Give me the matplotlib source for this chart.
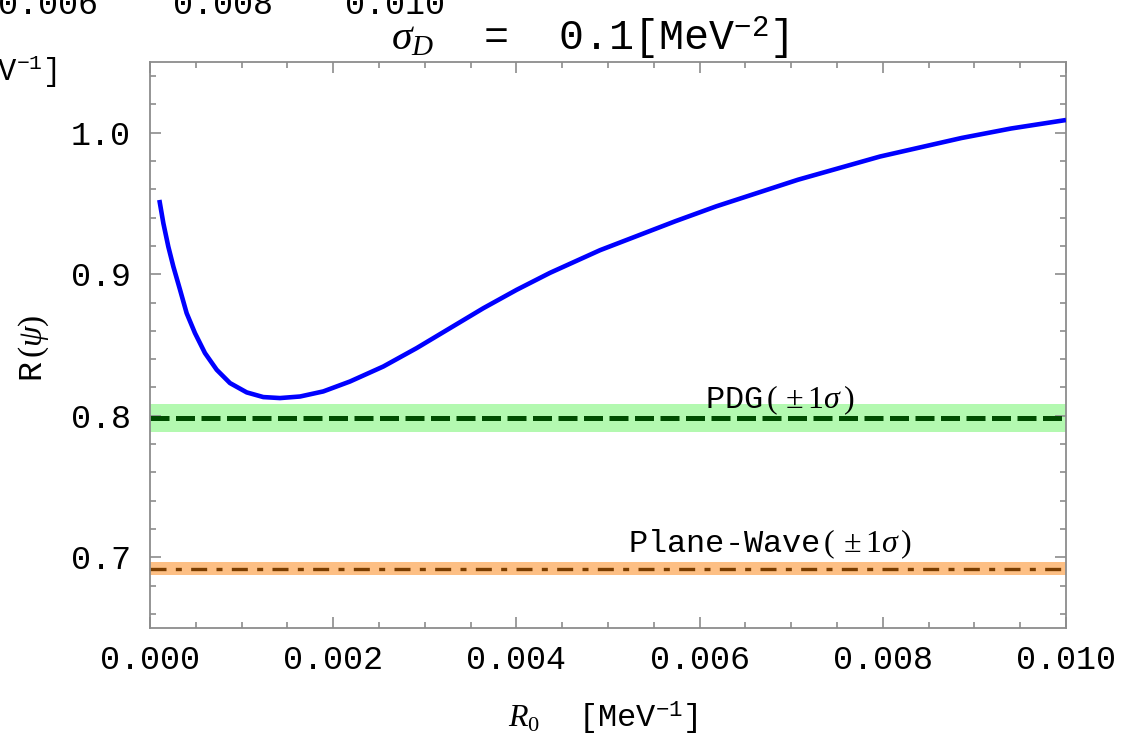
import matplotlib
matplotlib.use("Agg")
import matplotlib.pyplot as plt
from matplotlib.ticker import MultipleLocator

plt.rcParams['font.family'] = ['Liberation Mono', 'DejaVu Sans']
plt.rcParams['mathtext.fontset'] = 'custom'
plt.rcParams['mathtext.rm'] = 'Liberation Serif'
plt.rcParams['mathtext.it'] = 'Liberation Serif:italic'
plt.rcParams['mathtext.tt'] = 'Liberation Mono'

# R(psi) against the source radius R0, sigma_D = 0.1 MeV^-2
r0 = [0.000102, 0.000146, 0.000200, 0.000255, 0.000328, 0.000400, 0.000491,
      0.000600, 0.000728, 0.000873, 0.001056, 0.001237, 0.001419, 0.001638,
      0.001892, 0.002183, 0.002547, 0.002911, 0.003275, 0.003639, 0.004003,
      0.004367, 0.004913, 0.005736, 0.006182, 0.007074, 0.007970, 0.008860,
      0.009400, 0.010000]
ratio = [0.9525, 0.9360, 0.9195, 0.9054, 0.8890, 0.8725, 0.8584,
         0.8443, 0.8325, 0.8231, 0.8165, 0.8132, 0.8125, 0.8136,
         0.8172, 0.8242, 0.8348, 0.8478, 0.8619, 0.8760, 0.8890,
         0.9010, 0.9170, 0.9375, 0.9480, 0.9668, 0.9832, 0.9963,
         1.0030, 1.0090]

# reference values with one-sigma bands
pdg_val, pdg_err = 0.7985, 0.0100
pw_val, pw_err = 0.692, 0.0045

xticks = [0.000, 0.002, 0.004, 0.006, 0.008, 0.010]
yticks = [0.7, 0.8, 0.9, 1.0]

fig = plt.figure(figsize=(11.24, 7.38), dpi=100)
ax = fig.add_axes([150/1124, 110/738, 916/1124, 566/738])

ax.axhspan(pdg_val - pdg_err, pdg_val + pdg_err, color='#b3f9b0', lw=0, zorder=1)
ax.axhspan(pw_val - pw_err, pw_val + pw_err, color='#fdbf84', lw=0, zorder=1)
ax.axhline(pdg_val, color='#004d00', lw=3.6, dashes=(3.8, 1.3), zorder=2)
ax.axhline(pw_val, color='#7a3d00', lw=2.4, dashes=(4.8, 2.8, 1.8, 2.8), zorder=2)
ax.plot(r0, ratio, color='#0000ff', lw=3.3, solid_capstyle='butt',
        solid_joinstyle='round', zorder=3)

ax.text(0.00606, pdg_val + 0.0065, r'PDG$\,(\,\pm1\sigma\,)$', fontsize=23, zorder=4)
ax.text(0.00522, pw_val + 0.0115, r'Plane-Wave$\,(\,\pm1\sigma\,)$', fontsize=23, zorder=4)

ax.set_xlim(0, 0.010)
ax.set_ylim(0.65, 1.05)
ax.set_xticks(xticks)
ax.set_xticklabels([f'{v:.3f}' for v in xticks])
ax.set_yticks(yticks)
ax.set_yticklabels([f'{v:.1f}' for v in yticks])
ax.xaxis.set_minor_locator(MultipleLocator(0.0005))
ax.yaxis.set_minor_locator(MultipleLocator(0.02))

for s in ax.spines.values():
    s.set_color('#8c8c8c')
    s.set_linewidth(1.3)
ax.tick_params(which='both', direction='in', top=True, right=True,
               color='#8c8c8c', width=1.2, labelsize=24)
ax.tick_params(which='major', length=8)
ax.tick_params(which='minor', length=4.5)
ax.tick_params(axis='x', pad=12)
ax.tick_params(axis='y', pad=14)

# axis titles and heading
fig.text(603/1124, 1 - 718/738, r'$R_0$  [MeV$^{\mathtt{-1}}$]', fontsize=23,
         ha='center', va='center')
fig.text(34/1124, 1 - 348/738, r'R$\,(\psi)$', fontsize=24, rotation=90,
         ha='center', va='center')
fig.text(590/1124, 1 - 38/738, r'$\sigma_D$  =  0.1[MeV$^{\mathtt{-2}}$]',
         fontsize=30, ha='center', va='center')

# pieces of the neighbouring panel cut off at the top-left corner
for x, s in [(48, '0.006'), (223, '0.008'), (395, '0.010')]:
    fig.text(x/1124, 1 - 6/738, s, fontsize=24, ha='center', va='center')
fig.text(57/1124, 1 - 72/738, r'MeV$^{\mathtt{-1}}$]', fontsize=22, ha='right', va='center')

fig.savefig('out.png', dpi=100)
